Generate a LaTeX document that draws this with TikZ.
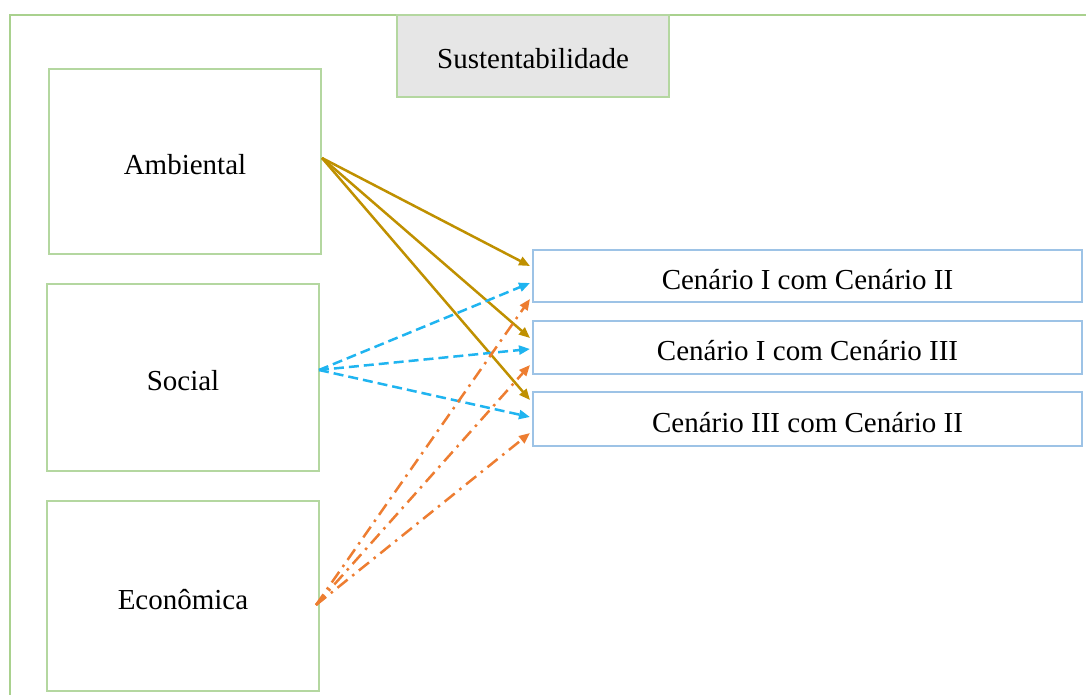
\documentclass[tikz,border=0pt]{standalone}
\usepackage{fontspec}
\setmainfont{Liberation Serif}
\usetikzlibrary{arrows.meta,calc}
\definecolor{frameg}{HTML}{A9D18E}
\definecolor{boxg}{HTML}{B4D7A0}
\definecolor{boxb}{HTML}{9DC3E6}
\definecolor{fillg}{HTML}{E6E6E6}
\definecolor{gold}{HTML}{BF9000}
\definecolor{skyb}{HTML}{1FB4F0}
\definecolor{orng}{HTML}{ED7D31}
\tikzset{
  dimbox/.style={draw=boxg, line width=1.5pt, inner sep=0pt, outer sep=0pt, minimum width=272pt, text height=26pt, text depth=0pt, font=\fontsize{29}{34}\selectfont},
  scenbox/.style={draw=boxb, line width=1.5pt, inner sep=0pt, outer sep=0pt, minimum width=549pt, text height=26pt, text depth=0pt, font=\fontsize{29}{34}\selectfont},
  goldarrow/.style={draw=gold, line width=2.5pt, -{Triangle[length=11pt,width=9pt]}},
  bluearrow/.style={draw=skyb, line width=2.5pt, dash pattern=on 10pt off 5pt, -{Triangle[length=11pt,width=9pt]}},
  orangearrow/.style={draw=orng, line width=2.5pt, dash pattern=on 13pt off 6pt on 2.5pt off 6pt, -{Triangle[length=11pt,width=9pt]}},
}
\begin{document}
\begin{tikzpicture}[x=1pt,y=-1pt]
\useasboundingbox (0,0) rectangle (1086,695);
\draw[draw=frameg, line width=2pt] (1086,15) -- (10,15) -- (10,695);
\node[dimbox, fill=fillg, minimum height=82pt] (sus) at (533,56) {Sustentabilidade};
\node[dimbox, minimum height=185pt] (amb) at (185,161.5) {Ambiental};
\node[dimbox, minimum height=187pt] (soc) at (183,377.5) {Social};
\node[dimbox, minimum height=190pt] (eco) at (183,596) {Econômica};
\node[scenbox, minimum height=52pt] (c1) at (807.5,276) {Cenário I com Cenário II};
\node[scenbox, minimum height=53pt] (c2) at (807.5,347.5) {Cenário I com Cenário III};
\node[scenbox, minimum height=54pt] (c3) at (807.5,419) {Cenário III com Cenário II};
\coordinate (ambo) at ($(amb.east)+(1,-3.5)$);
\coordinate (soco) at ($(soc.east)+(0,-7.5)$);
\coordinate (ecoo) at ($(eco.east)+(-3,9)$);
\draw[goldarrow] (ambo) -- ($(c1.west)+(-3,-10)$);
\draw[goldarrow] (ambo) -- ($(c2.west)+(-3,-9.5)$);
\draw[goldarrow] (ambo) -- ($(c3.west)+(-3,-19)$);
\draw[bluearrow] (soco) -- ($(c1.west)+(-3,7)$);
\draw[bluearrow] (soco) -- ($(c2.west)+(-3,1.5)$);
\draw[bluearrow] (soco) -- ($(c3.west)+(-3,-2)$);
\draw[orangearrow] (ecoo) -- ($(c1.west)+(-3,23)$);
\draw[orangearrow] (ecoo) -- ($(c2.west)+(-3,17.5)$);
\draw[orangearrow] (ecoo) -- ($(c3.west)+(-3,14)$);
\end{tikzpicture}
\end{document}
